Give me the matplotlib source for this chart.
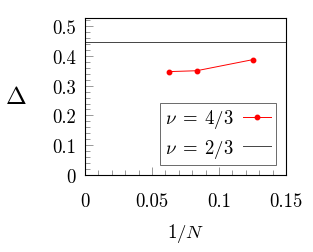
import matplotlib
matplotlib.use("Agg")
import matplotlib.pyplot as plt
from matplotlib.ticker import MultipleLocator

plt.rcParams["font.family"] = "serif"
plt.rcParams["font.serif"] = ["cmr10"]
plt.rcParams["mathtext.fontset"] = "cm"
plt.rcParams["axes.formatter.use_mathtext"] = True

# data
inv_n = [1 / 16, 1 / 12, 1 / 8]
gap_43 = [0.347, 0.350, 0.387]
gap_23 = 0.445

x_ticks = [0, 0.05, 0.1, 0.15]
x_labels = ["0", "0.05", "0.1", "0.15"]
y_ticks = [0, 0.1, 0.2, 0.3, 0.4, 0.5]
y_labels = ["0", "0.1", "0.2", "0.3", "0.4", "0.5"]

fig = plt.figure(figsize=(3.13, 2.53), dpi=100)
ax = fig.add_axes([85 / 313, 1 - 176 / 253, 201 / 313, 157 / 253])

ax.plot(inv_n, gap_43, color="red", lw=0.7, marker="o", ms=3.2,
        label=r"$\nu \;=\; 4/3$")
ax.axhline(gap_23, color="#444444", lw=0.7, label=r"$\nu \;=\; 2/3$")

ax.set_xlim(0, 0.15)
ax.set_ylim(0, 0.527)
ax.set_xticks(x_ticks, labels=x_labels)
ax.set_yticks(y_ticks, labels=y_labels)
ax.xaxis.set_minor_locator(MultipleLocator(0.01))
ax.yaxis.set_minor_locator(MultipleLocator(0.02))
ax.tick_params(which="both", direction="in", top=False, right=False,
               labelsize=13.5, color="#888888")
ax.tick_params(axis="x", which="major", pad=12.5)
ax.tick_params(axis="y", which="major", pad=6.5)
ax.tick_params(which="major", length=6, width=0.6)
ax.tick_params(which="minor", length=3.5, width=0.6)
for s in ax.spines.values():
    s.set_linewidth(0.8)

ax.set_xlabel(r"$1/N$", fontsize=13.5, labelpad=8)
ax.set_ylabel(r"$\Delta$", fontsize=18, rotation=0, labelpad=26, va="center")

leg = ax.legend(loc="lower right", fontsize=13.5, frameon=True, fancybox=False,
                edgecolor="#444444", markerfirst=False, handlelength=1.5,
                borderpad=0.25, labelspacing=0.35, handletextpad=0.5,
                borderaxespad=0.55, numpoints=1)
leg.get_frame().set_linewidth(0.7)

fig.savefig("out.png", dpi=100)
